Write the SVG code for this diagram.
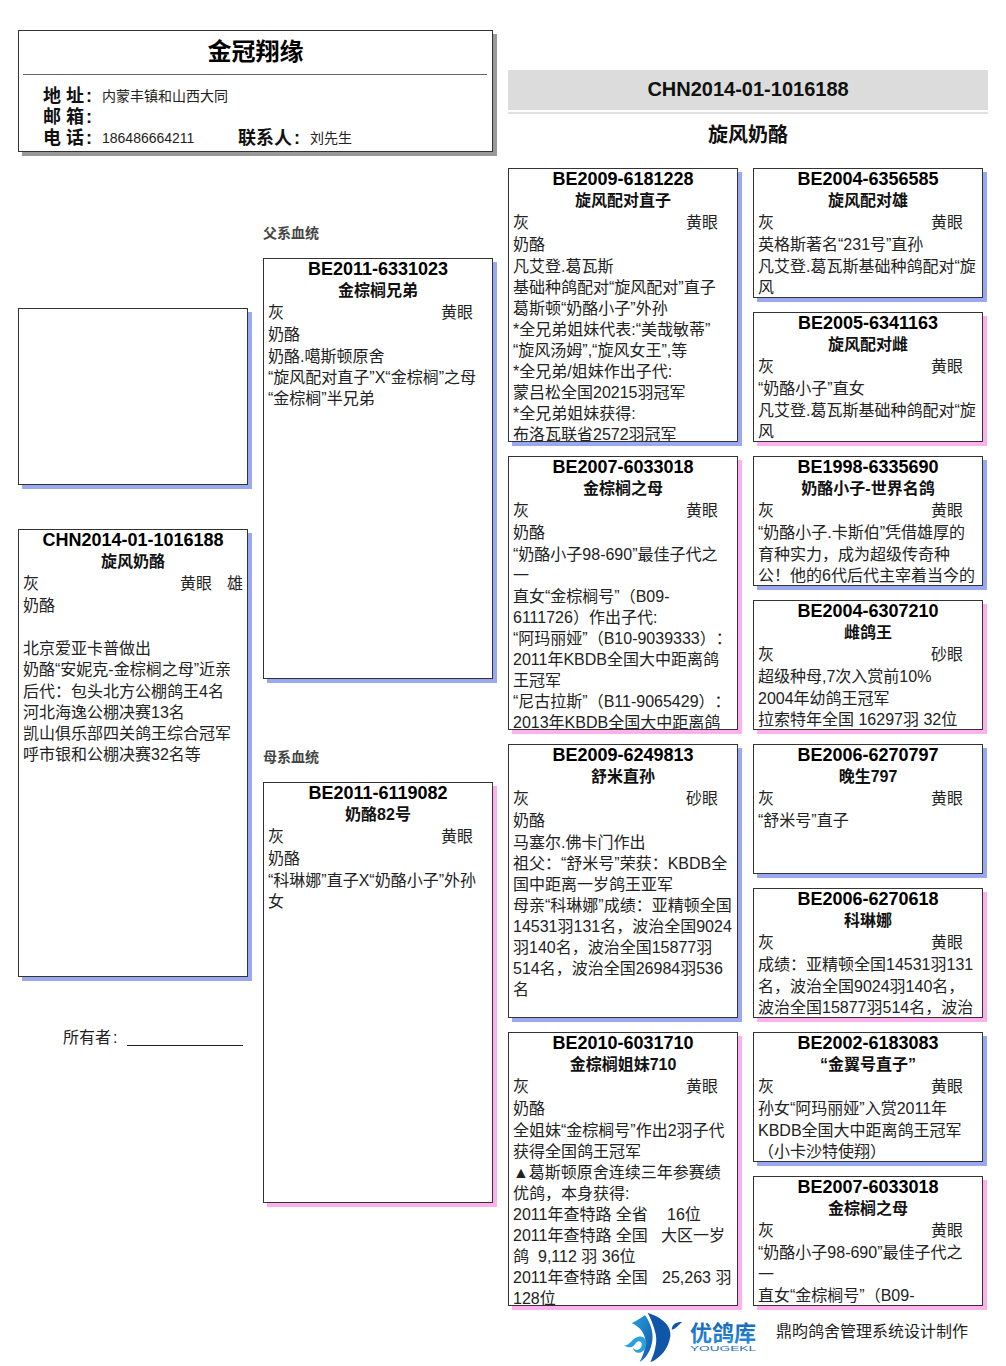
<svg xmlns="http://www.w3.org/2000/svg" width="1006" height="1366" viewBox="0 0 1006 1366">
<style>
text{font-family:"Liberation Sans","Noto Sans CJK SC",sans-serif;font-size:16px;fill:#222;text-spacing-trim:space-all}
.id{font-size:18px;font-weight:bold;text-anchor:middle;fill:#000}
.nm{font-size:16px;font-weight:bold;text-anchor:middle;fill:#111}
.lb{font-size:18px;font-weight:bold;fill:#111}
.v{font-size:14px}
.h{font-size:20px;font-weight:bold;text-anchor:middle;fill:#111}
.s{font-size:14px;font-weight:bold;fill:#444}
.box{fill:#fff;stroke:#333;stroke-width:1}
.b{fill:#9aa8f0}
.p{fill:#fcb0ec}
.g{fill:#999}
</style>
<defs>
<clipPath id="c274"><rect x="0" y="0" width="230" height="273"/></clipPath>
<clipPath id="c130"><rect x="0" y="0" width="230" height="129"/></clipPath>
<linearGradient id="lg" x1="0" y1="0" x2="1" y2="1"><stop offset="0" stop-color="#2aa0dc"/><stop offset="1" stop-color="#0f56a8"/></linearGradient>
<linearGradient id="lt" x1="0" y1="0" x2="0" y2="1"><stop offset="0" stop-color="#1466b8"/><stop offset="1" stop-color="#2a8fd8"/></linearGradient>
</defs>
<rect width="1006" height="1366" fill="#fff"/>

<g id="header">
<rect class="g" x="22" y="34" width="475" height="122"/>
<rect class="box" x="18.5" y="30.5" width="474" height="121"/>
<rect x="23" y="74" width="464" height="1" fill="#666"/>
<text x="255.5" y="60" style="font-size:24px;font-weight:bold;text-anchor:middle;fill:#000">金冠翔缘</text>
<text class="lb" x="43" y="102">地 址<tspan dx="2">:</tspan></text><text class="v" x="102" y="101">内蒙丰镇和山西大同</text>
<text class="lb" x="43" y="123">邮 箱<tspan dx="2">:</tspan></text>
<text class="lb" x="43" y="144">电 话<tspan dx="2">:</tspan></text><text class="v" x="102" y="143">186486664211</text>
<text class="lb" x="238" y="144">联系人<tspan dx="2">:</tspan></text><text class="v" x="310" y="143">刘先生</text>
</g>

<g id="title">
<rect x="508" y="70" width="480" height="40" fill="#dcdcdc"/>
<rect x="508" y="112" width="480" height="2" fill="#e0e0e0"/>
<text class="h" x="748" y="96">CHN2014-01-1016188</text>
<text class="h" x="748" y="142">旋风奶酪</text>
</g>

<g id="photo">
<rect class="b" x="22" y="312" width="230" height="177"/>
<rect class="box" x="18.5" y="308.5" width="229" height="176"/>
</g>

<g id="self" transform="translate(18 529)">
<rect class="b" x="4" y="4" width="230" height="448"/>
<rect class="box" x="0.5" y="0.5" width="229" height="447"/>
<text class="id" x="115" y="17">CHN2014-01-1016188</text>
<text class="nm" x="115" y="38">旋风奶酪</text>
<text x="5" y="60">灰</text><text x="162" y="60">黄眼</text><text x="209" y="60">雄</text>
<text x="5" y="82">奶酪</text>
<text x="5" y="125">北京爱亚卡普做出</text>
<text x="5" y="146">奶酪“安妮克-金棕榈之母”近亲</text>
<text x="5" y="168">后代：包头北方公棚鸽王4名</text>
<text x="5" y="189">河北海逸公棚决赛13名</text>
<text x="5" y="210">凯山俱乐部四关鸽王综合冠军</text>
<text x="5" y="231">呼市银和公棚决赛32名等</text>
</g>

<g id="owner">
<text x="63" y="1043">所有者<tspan dx="2">:</tspan></text>
<rect x="127" y="1045" width="116" height="1" fill="#222"/>
</g>

<text class="s" x="263" y="238">父系血统</text>
<text class="s" x="263" y="762">母系血统</text>

<g id="sire" transform="translate(263 258)">
<rect class="b" x="4" y="4" width="230" height="421"/>
<rect class="box" x="0.5" y="0.5" width="229" height="420"/>
<text class="id" x="115" y="17">BE2011-6331023</text>
<text class="nm" x="115" y="38">金棕榈兄弟</text>
<text x="5" y="60">灰</text><text x="178" y="60">黄眼</text>
<text x="5" y="82">奶酪</text>
<text x="5" y="104">奶酪.噶斯顿原舍</text>
<text x="5" y="125">“旋风配对直子”X“金棕榈”之母</text>
<text x="5" y="146">“金棕榈”半兄弟</text>
</g>

<g id="dam" transform="translate(263 782)">
<rect class="p" x="4" y="4" width="230" height="421"/>
<rect class="box" x="0.5" y="0.5" width="229" height="420"/>
<text class="id" x="115" y="17">BE2011-6119082</text>
<text class="nm" x="115" y="38">奶酪82号</text>
<text x="5" y="60">灰</text><text x="178" y="60">黄眼</text>
<text x="5" y="82">奶酪</text>
<text x="5" y="104">“科琳娜”直子X“奶酪小子”外孙</text>
<text x="5" y="125">女</text>
</g>

<g id="ss" transform="translate(508 168)">
<rect class="b" x="4" y="4" width="230" height="274"/>
<rect class="box" x="0.5" y="0.5" width="229" height="273"/>
<g clip-path="url(#c274)">
<text class="id" x="115" y="17">BE2009-6181228</text>
<text class="nm" x="115" y="38">旋风配对直子</text>
<text x="5" y="60">灰</text><text x="178" y="60">黄眼</text>
<text x="5" y="82">奶酪</text>
<text x="5" y="104">凡艾登.葛瓦斯</text>
<text x="5" y="125">基础种鸽配对“旋风配对”直子</text>
<text x="5" y="146">葛斯顿“奶酪小子”外孙</text>
<text x="5" y="167">*全兄弟姐妹代表:“美哉敏蒂”</text>
<text x="5" y="188">“旋风汤姆”,“旋风女王”,等</text>
<text x="5" y="209">*全兄弟/姐妹作出子代:</text>
<text x="5" y="230">蒙吕松全国20215羽冠军</text>
<text x="5" y="251">*全兄弟姐妹获得:</text>
<text x="5" y="272">布洛瓦联省2572羽冠军</text>
</g>
</g>

<g id="sd" transform="translate(508 456)">
<rect class="p" x="4" y="4" width="230" height="274"/>
<rect class="box" x="0.5" y="0.5" width="229" height="273"/>
<g clip-path="url(#c274)">
<text class="id" x="115" y="17">BE2007-6033018</text>
<text class="nm" x="115" y="38">金棕榈之母</text>
<text x="5" y="60">灰</text><text x="178" y="60">黄眼</text>
<text x="5" y="82">奶酪</text>
<text x="5" y="104">“奶酪小子98-690”最佳子代之</text>
<text x="5" y="125">一</text>
<text x="5" y="146">直女“金棕榈号”（B09-</text>
<text x="5" y="167">6111726）作出子代:</text>
<text x="5" y="188">“阿玛丽娅”（B10-9039333）：</text>
<text x="5" y="209">2011年KBDB全国大中距离鸽</text>
<text x="5" y="230">王冠军</text>
<text x="5" y="251">“尼古拉斯”（B11-9065429）：</text>
<text x="5" y="272">2013年KBDB全国大中距离鸽</text>
</g>
</g>

<g id="ds" transform="translate(508 744)">
<rect class="b" x="4" y="4" width="230" height="274"/>
<rect class="box" x="0.5" y="0.5" width="229" height="273"/>
<g clip-path="url(#c274)">
<text class="id" x="115" y="17">BE2009-6249813</text>
<text class="nm" x="115" y="38">舒米直孙</text>
<text x="5" y="60">灰</text><text x="178" y="60">砂眼</text>
<text x="5" y="82">奶酪</text>
<text x="5" y="104">马塞尔.佛卡门作出</text>
<text x="5" y="125">祖父：“舒米号”荣获：KBDB全</text>
<text x="5" y="146">国中距离一岁鸽王亚军</text>
<text x="5" y="167">母亲“科琳娜”成绩：亚精顿全国</text>
<text x="5" y="188">14531羽131名，波治全国9024</text>
<text x="5" y="209">羽140名，波治全国15877羽</text>
<text x="5" y="230">514名，波治全国26984羽536</text>
<text x="5" y="251">名</text>
</g>
</g>

<g id="dd" transform="translate(508 1032)">
<rect class="p" x="4" y="4" width="230" height="274"/>
<rect class="box" x="0.5" y="0.5" width="229" height="273"/>
<g clip-path="url(#c274)">
<text class="id" x="115" y="17">BE2010-6031710</text>
<text class="nm" x="115" y="38">金棕榈姐妹710</text>
<text x="5" y="60">灰</text><text x="178" y="60">黄眼</text>
<text x="5" y="82">奶酪</text>
<text x="5" y="104">全姐妹“金棕榈号”作出2羽子代</text>
<text x="5" y="125">获得全国鸽王冠军</text>
<text x="5" y="146">▲葛斯顿原舍连续三年参赛绩</text>
<text x="5" y="167">优鸽，本身获得:</text>
<text x="5" y="188">2011年查特路 全省<tspan x="159">16位</tspan></text>
<text x="5" y="209">2011年查特路 全国<tspan x="153">大区一岁</tspan></text>
<text x="5" y="230">鸽<tspan x="30">9,112 羽 36位</tspan></text>
<text x="5" y="251">2011年查特路 全国<tspan x="154">25,263 羽</tspan></text>
<text x="5" y="272">128位</text>
</g>
</g>

<g id="sss" transform="translate(753 168)">
<rect class="b" x="4" y="4" width="230" height="130"/>
<rect class="box" x="0.5" y="0.5" width="229" height="129"/>
<g clip-path="url(#c130)">
<text class="id" x="115" y="17">BE2004-6356585</text>
<text class="nm" x="115" y="38">旋风配对雄</text>
<text x="5" y="60">灰</text><text x="178" y="60">黄眼</text>
<text x="5" y="82">英格斯著名“231号”直孙</text>
<text x="5" y="104">凡艾登.葛瓦斯基础种鸽配对“旋</text>
<text x="5" y="125">风</text>
</g>
</g>

<g id="ssd" transform="translate(753 312)">
<rect class="p" x="4" y="4" width="230" height="130"/>
<rect class="box" x="0.5" y="0.5" width="229" height="129"/>
<g clip-path="url(#c130)">
<text class="id" x="115" y="17">BE2005-6341163</text>
<text class="nm" x="115" y="38">旋风配对雌</text>
<text x="5" y="60">灰</text><text x="178" y="60">黄眼</text>
<text x="5" y="82">“奶酪小子”直女</text>
<text x="5" y="104">凡艾登.葛瓦斯基础种鸽配对“旋</text>
<text x="5" y="125">风</text>
</g>
</g>

<g id="sds" transform="translate(753 456)">
<rect class="b" x="4" y="4" width="230" height="130"/>
<rect class="box" x="0.5" y="0.5" width="229" height="129"/>
<g clip-path="url(#c130)">
<text class="id" x="115" y="17">BE1998-6335690</text>
<text class="nm" x="115" y="38">奶酪小子-世界名鸽</text>
<text x="5" y="60">灰</text><text x="178" y="60">黄眼</text>
<text x="5" y="82">“奶酪小子.卡斯伯”凭借雄厚的</text>
<text x="5" y="104">育种实力，成为超级传奇种</text>
<text x="5" y="125">公！他的6代后代主宰着当今的</text>
</g>
</g>

<g id="sdd" transform="translate(753 600)">
<rect class="p" x="4" y="4" width="230" height="130"/>
<rect class="box" x="0.5" y="0.5" width="229" height="129"/>
<g clip-path="url(#c130)">
<text class="id" x="115" y="17">BE2004-6307210</text>
<text class="nm" x="115" y="38">雌鸽王</text>
<text x="5" y="60">灰</text><text x="178" y="60">砂眼</text>
<text x="5" y="82">超级种母,7次入赏前10%</text>
<text x="5" y="104">2004年幼鸽王冠军</text>
<text x="5" y="125">拉索特年全国 16297羽 32位</text>
</g>
</g>

<g id="dss" transform="translate(753 744)">
<rect class="b" x="4" y="4" width="230" height="130"/>
<rect class="box" x="0.5" y="0.5" width="229" height="129"/>
<g clip-path="url(#c130)">
<text class="id" x="115" y="17">BE2006-6270797</text>
<text class="nm" x="115" y="38">晚生797</text>
<text x="5" y="60">灰</text><text x="178" y="60">黄眼</text>
<text x="5" y="82">“舒米号”直子</text>
</g>
</g>

<g id="dsd" transform="translate(753 888)">
<rect class="p" x="4" y="4" width="230" height="130"/>
<rect class="box" x="0.5" y="0.5" width="229" height="129"/>
<g clip-path="url(#c130)">
<text class="id" x="115" y="17">BE2006-6270618</text>
<text class="nm" x="115" y="38">科琳娜</text>
<text x="5" y="60">灰</text><text x="178" y="60">黄眼</text>
<text x="5" y="82">成绩：亚精顿全国14531羽131</text>
<text x="5" y="104">名，波治全国9024羽140名，</text>
<text x="5" y="125">波治全国15877羽514名，波治</text>
</g>
</g>

<g id="dds" transform="translate(753 1032)">
<rect class="b" x="4" y="4" width="230" height="130"/>
<rect class="box" x="0.5" y="0.5" width="229" height="129"/>
<g clip-path="url(#c130)">
<text class="id" x="115" y="17">BE2002-6183083</text>
<text class="nm" x="115" y="38">“金翼号直子”</text>
<text x="5" y="60">灰</text><text x="178" y="60">黄眼</text>
<text x="5" y="82">孙女“阿玛丽娅”入赏2011年</text>
<text x="5" y="104">KBDB全国大中距离鸽王冠军</text>
<text x="5" y="125">（小卡沙特使翔）</text>
</g>
</g>

<g id="ddd" transform="translate(753 1176)">
<rect class="p" x="4" y="4" width="230" height="130"/>
<rect class="box" x="0.5" y="0.5" width="229" height="129"/>
<g clip-path="url(#c130)">
<text class="id" x="115" y="17">BE2007-6033018</text>
<text class="nm" x="115" y="38">金棕榈之母</text>
<text x="5" y="60">灰</text><text x="178" y="60">黄眼</text>
<text x="5" y="82">“奶酪小子98-690”最佳子代之</text>
<text x="5" y="104">一</text>
<text x="5" y="125">直女“金棕榈号”（B09-</text>
</g>
</g>

<g id="logo">
<g transform="translate(615 1308) scale(.3333)">
<path d="M98 14C140 28 170 52 166 85C160 122 138 150 106 163C118 135 128 105 122 78C116 52 108 32 98 14Z" fill="#0f56a8"/>
<path d="M50 46C65 38 78 30 90 22C106 44 116 72 112 98C108 125 96 148 74 162C88 135 94 112 90 90C84 68 70 54 50 46Z" fill="url(#lg)"/>
<path d="M25 110C42 118 48 92 70 86C90 82 98 100 92 118C84 140 56 140 54 118C58 130 78 128 80 112C82 98 68 96 62 106C54 122 38 120 25 110Z" fill="#2aa0dc"/>
<path d="M170 65C172 50 180 42 202 42C190 50 185 62 170 65Z" fill="#0f56a8"/>
</g>
<text x="690" y="1341" style="font-size:22px;fill:url(#lt);font-weight:bold">优鸽库</text>
<text x="690" y="1351" textLength="66" lengthAdjust="spacingAndGlyphs" style="font-size:7px;fill:#1a6fc0">YOUGEKL</text>
<text x="776" y="1337" fill="#333">鼎昀鸽舍管理系统设计制作</text>
</g>
</svg>
